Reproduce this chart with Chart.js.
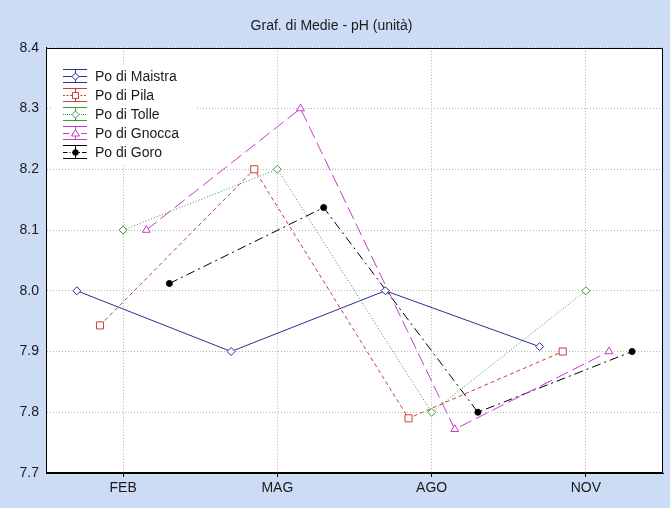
<!DOCTYPE html>
<html>
<head>
<meta charset="utf-8">
<script src="https://cdn.jsdelivr.net/npm/chart.js@4"></script>
<style>
  html, body { margin: 0; padding: 0; background: #cddcf5; }
  #wrap { width: 670px; height: 508px; }
</style>
</head>
<body>
<div id="wrap"><canvas id="chart" width="670" height="508"></canvas></div>
<script>
// Categories (months) and mean pH per site
const categories = ['FEB', 'MAG', 'AGO', 'NOV'];
const yTicks = [7.7, 7.8, 7.9, 8.0, 8.1, 8.2, 8.3, 8.4];
const seriesNames = ['Po di Maistra', 'Po di Pila', 'Po di Tolle', 'Po di Gnocca', 'Po di Goro'];
const maistra = [8.0, 7.9, 8.0, 7.908];
const pila = [7.943, 8.2, 7.79, 7.9];
const tolle = [8.1, 8.2, 7.8, 8.0];
const gnocca = [8.1, 8.3, 7.772, 7.9];
const goro = [8.012, 8.137, 7.8, 7.9];
// horizontal dodge of each series around the category
const xOffsets = [-0.3, -0.15, 0, 0.15, 0.3];

const seriesValues = [maistra, pila, tolle, gnocca, goro];
const colors = ['#2e2e96', '#c8423a', '#3a9a3a', '#c83cc8', '#000000'];
const dashes = [[], [4, 3], [1, 2], [13, 5], [9, 4, 2, 4]];
const markers = ['rectRot', 'rect', 'rectRot', 'triangle', 'circle'];
const radii = [4, 5, 4, 4.5, 3];

function marker(ctx, style, x, y, color, filled) {
  ctx.save();
  ctx.setLineDash([]);
  ctx.strokeStyle = color;
  ctx.fillStyle = filled ? color : '#ffffff';
  ctx.lineWidth = 1;
  ctx.beginPath();
  if (style === 'rect') {
    ctx.rect(x - 3, y - 3, 6, 6);
  } else if (style === 'rectRot') {
    ctx.moveTo(x, y - 3.5); ctx.lineTo(x + 3.5, y); ctx.lineTo(x, y + 3.5); ctx.lineTo(x - 3.5, y); ctx.closePath();
  } else if (style === 'triangle') {
    ctx.moveTo(x, y - 4); ctx.lineTo(x + 4, y + 2.5); ctx.lineTo(x - 4, y + 2.5); ctx.closePath();
  } else {
    ctx.arc(x, y, 2.8, 0, Math.PI * 2);
  }
  ctx.fill();
  ctx.stroke();
  ctx.restore();
}

// background, frame and the legend box inside the plot
const decor = {
  id: 'decor',
  beforeDraw(chart) {
    const { ctx, chartArea: a } = chart;
    ctx.save();
    ctx.fillStyle = '#cddcf5';
    ctx.fillRect(0, 0, chart.width, chart.height);
    ctx.fillStyle = '#ffffff';
    ctx.fillRect(a.left, a.top, a.right - a.left, a.bottom - a.top);
    ctx.restore();
  },
  afterDraw(chart) {
    const { ctx, chartArea: a } = chart;
    ctx.save();
    ctx.strokeStyle = '#000000';
    ctx.lineWidth = 1;
    ctx.strokeRect(Math.round(a.left) + 0.5, Math.round(a.top) + 0.5,
      Math.round(a.right - a.left) - 1, Math.round(a.bottom - a.top) - 1);

    // legend
    ctx.fillStyle = '#ffffff';
    ctx.fillRect(52, 65, 143, 99);
    ctx.font = '14px "Liberation Sans", Arial, sans-serif';
    ctx.textBaseline = 'middle';
    seriesNames.forEach((name, i) => {
      const y = 76 + i * 19;
      const c = colors[i];
      ctx.strokeStyle = c;
      ctx.lineWidth = 1;
      ctx.setLineDash([]);
      ctx.beginPath();
      ctx.moveTo(63, y - 6.5); ctx.lineTo(87, y - 6.5);
      ctx.moveTo(63, y + 6.5); ctx.lineTo(87, y + 6.5);
      ctx.moveTo(75.5, y - 6.5); ctx.lineTo(75.5, y + 6.5);
      ctx.stroke();
      ctx.setLineDash(dashes[i].length ? dashes[i].map(d => Math.max(1, d * 0.5)) : []);
      ctx.beginPath();
      ctx.moveTo(63, y + 0.5); ctx.lineTo(87, y + 0.5);
      ctx.stroke();
      marker(ctx, markers[i], 75.5, y + 0.5, c, i === 4);
      ctx.fillStyle = '#1a1a1a';
      ctx.fillText(name, 95, y + 1);
    });
    ctx.restore();
  }
};

const datasets = seriesNames.map((name, i) => ({
  label: name,
  data: seriesValues[i].map((v, j) => ({ x: j + xOffsets[i], y: v })),
  borderColor: colors[i],
  borderWidth: 1,
  borderDash: dashes[i],
  pointStyle: markers[i],
  pointRadius: radii[i],
  pointBorderWidth: 1,
  pointBorderColor: colors[i],
  pointBackgroundColor: i === 4 ? colors[i] : '#ffffff',
  tension: 0,
  fill: false
}));

new Chart(document.getElementById('chart'), {
  type: 'line',
  data: { datasets },
  plugins: [decor],
  options: {
    responsive: false,
    animation: false,
    devicePixelRatio: 1,
    layout: { padding: { top: 0, right: 7, bottom: 0, left: 0 } },
    plugins: {
      legend: { display: false },
      tooltip: { enabled: false },
      title: {
        display: true,
        text: 'Graf. di Medie - pH (unità)',
        color: '#1a1a1a',
        font: { family: '"Liberation Sans", Arial, sans-serif', size: 14, weight: 'normal' },
        padding: { top: 18, bottom: 13 }
      }
    },
    scales: {
      x: {
        type: 'linear',
        min: -0.5,
        max: categories.length - 0.5,
        afterBuildTicks(scale) {
          scale.ticks = categories.map((c, i) => ({ value: i }));
        },
        afterFit(scale) { scale.height = 35; },
        ticks: {
          callback: (v) => categories[v],
          color: '#1a1a1a',
          padding: 3,
          maxRotation: 0,
          font: { family: '"Liberation Sans", Arial, sans-serif', size: 14 }
        },
        grid: { color: '#b4b4b4', tickColor: '#000000', tickLength: 4 },
        border: { display: true, color: '#000000', dash: [1, 2] }
      },
      y: {
        min: 7.7,
        max: 8.4,
        afterBuildTicks(scale) {
          scale.ticks = yTicks.map(v => ({ value: v }));
        },
        afterFit(scale) { scale.width = 46; },
        ticks: {
          callback: (v) => v.toFixed(1),
          color: '#1a1a1a',
          padding: 7,
          font: { family: '"Liberation Sans", Arial, sans-serif', size: 14 }
        },
        grid: { color: '#b4b4b4', drawTicks: false },
        border: { display: true, color: '#000000', dash: [1, 2] }
      }
    }
  }
});
</script>
</body>
</html>
